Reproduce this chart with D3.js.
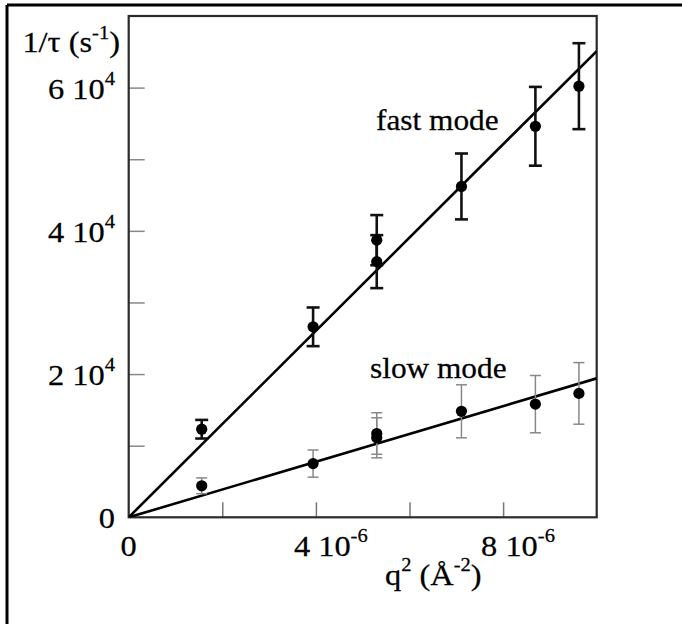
<!DOCTYPE html>
<html>
<head>
<meta charset="utf-8">
<script src="https://cdn.jsdelivr.net/npm/d3@7"></script>
<style>
  body { margin: 0; background: #fff; }
  text { font-family: "Liberation Serif", "Times New Roman", serif; fill: #000; stroke: #000; stroke-width: 0.25; }
</style>
</head>
<body>
<div id="graph"></div>
<script>
// data: q^2 (A^-2) and relaxation rates 1/tau (s^-1)
const q2 = [1.56e-6, 3.94e-6, 5.30e-6, 5.30e-6, 7.11e-6, 8.69e-6, 9.62e-6];
const fastRate = [1.23e4, 2.66e4, 3.87e4, 3.57e4, 4.62e4, 5.46e4, 6.02e4];
const fastErr = [0.13e4, 0.27e4, 0.35e4, 0.37e4, 0.46e4, 0.55e4, 0.60e4];
const slowRate = [0.44e4, 0.75e4, 1.17e4, 1.11e4, 1.48e4, 1.58e4, 1.73e4];
const slowErr = [0.11e4, 0.19e4, 0.29e4, 0.28e4, 0.37e4, 0.40e4, 0.43e4];
// linear fits through the origin (slope in s^-1 A^2)
const fastSlope = 6.51e9, slowSlope = 1.94e9;
const xTicks = [2e-6, 4e-6, 6e-6, 8e-6];
const yTicks = [1e4, 2e4, 3e4, 4e4, 5e4, 6e4];
const xLabels = [[0, "0", ""], [4e-6, "4 10", "-6"], [8e-6, "8 10", "-6"]];
const yLabels = [[0, "0", ""], [2e4, "2 10", "4"], [4e4, "4 10", "4"], [6e4, "6 10", "4"]];

let width = 682, height = 624;
let padL = 128.7, padR = 596.7, padT = 16, padB = 517.3;
let stretch = 1.08; // the original lettering is a little wider than Liberation Serif

let x = d3.scaleLinear().domain([0, 1e-5]).range([padL, padR]);
let y = d3.scaleLinear().domain([0, 7e4]).range([padB, padT]);

let svg = d3.select("#graph").append("svg").attr("width", width).attr("height", height);

// outer frame (top and left only)
svg.append("path").attr("d", "M7,5H682M7,5V624").attr("stroke", "#000").attr("stroke-width", 3).attr("fill", "none");

// inward ticks
svg.append("g").attr("transform", "translate(0," + padB + ")")
  .call(d3.axisBottom(x).tickValues(xTicks).tickSize(-15).tickFormat(""))
  .call(g => g.select(".domain").remove())
  .call(g => g.selectAll("line").attr("stroke", "#777").attr("stroke-width", 1.5));
svg.append("g").attr("transform", "translate(" + padL + ",0)")
  .call(d3.axisLeft(y).tickValues(yTicks).tickSize(-16).tickFormat(""))
  .call(g => g.select(".domain").remove())
  .call(g => g.selectAll("line").attr("stroke", "#888").attr("stroke-width", 1.5));

// plot box
svg.append("rect").attr("x", padL).attr("y", padT).attr("width", padR - padL).attr("height", padB - padT)
  .attr("fill", "none").attr("stroke", "#2a2a2a").attr("stroke-width", 2.2);

svg.append("clipPath").attr("id", "clip").append("rect")
  .attr("x", padL).attr("y", padT).attr("width", padR - padL).attr("height", padB - padT);

// fit lines
let plot = svg.append("g").attr("clip-path", "url(#clip)");
[fastSlope, slowSlope].forEach(s => {
  plot.append("line")
    .attr("x1", x(0)).attr("y1", y(0)).attr("x2", x(1e-5)).attr("y2", y(s * 1e-5))
    .attr("stroke", "#000").attr("stroke-width", 2.6);
});

function errorBars(vals, errs, color, w, cap) {
  let g = svg.append("g").attr("stroke", color).attr("stroke-width", w);
  vals.forEach((v, i) => {
    let cx = x(q2[i]);
    g.append("line").attr("x1", cx).attr("x2", cx).attr("y1", y(v - errs[i])).attr("y2", y(v + errs[i]));
    [v - errs[i], v + errs[i]].forEach(e => {
      g.append("line").attr("x1", cx - cap).attr("x2", cx + cap).attr("y1", y(e)).attr("y2", y(e));
    });
  });
}
errorBars(fastRate, fastErr, "#111", 2.6, 6.5);
errorBars(slowRate, slowErr, "#888", 1.5, 5.5);

svg.append("g").selectAll("circle")
  .data(q2.map((q, i) => [q, fastRate[i]]).concat(q2.map((q, i) => [q, slowRate[i]])))
  .enter().append("circle")
  .attr("cx", d => x(d[0])).attr("cy", d => y(d[1])).attr("r", 5.6).attr("fill", "#000");

// text placed at (tx, ty), widened a touch
function label(tx, ty, size, anchor) {
  return svg.append("text")
    .attr("transform", "translate(" + tx + "," + ty + ") scale(" + stretch + ",1)")
    .attr("text-anchor", anchor || "start").attr("font-size", size);
}
function sciLabel(t, main, sup) {
  t.append("tspan").text(main);
  if (sup) t.append("tspan").attr("dy", -14).attr("font-size", 19).text(sup);
}
yLabels.forEach(d => {
  sciLabel(label(115, y(d[0]) + 11, 30, "end"), d[1], d[2]);
});
xLabels.forEach(d => {
  if (d[0] === 0) sciLabel(label(x(0), 556, 30, "middle"), d[1], d[2]);
  else sciLabel(label(x(d[0]) - 22, 556, 30, "start"), d[1], d[2]);
});

// axis titles
let yt = label(120, 52, 30, "end");
yt.append("tspan").text("1/\u03c4 (s");
yt.append("tspan").attr("dy", -13).attr("font-size", 19).text("-1");
yt.append("tspan").attr("dy", 13).text(")");

let xt = label(385, 585, 30);
xt.append("tspan").text("q");
xt.append("tspan").attr("dy", -14).attr("font-size", 19).text("2");
xt.append("tspan").attr("dy", 14).text(" (\u00c5");
xt.append("tspan").attr("dy", -14).attr("font-size", 19).text("-2");
xt.append("tspan").attr("dy", 14).text(")");

// series labels
label(376, 130, 29).text("fast mode");
label(370, 378, 29).text("slow mode");
</script>
</body>
</html>
